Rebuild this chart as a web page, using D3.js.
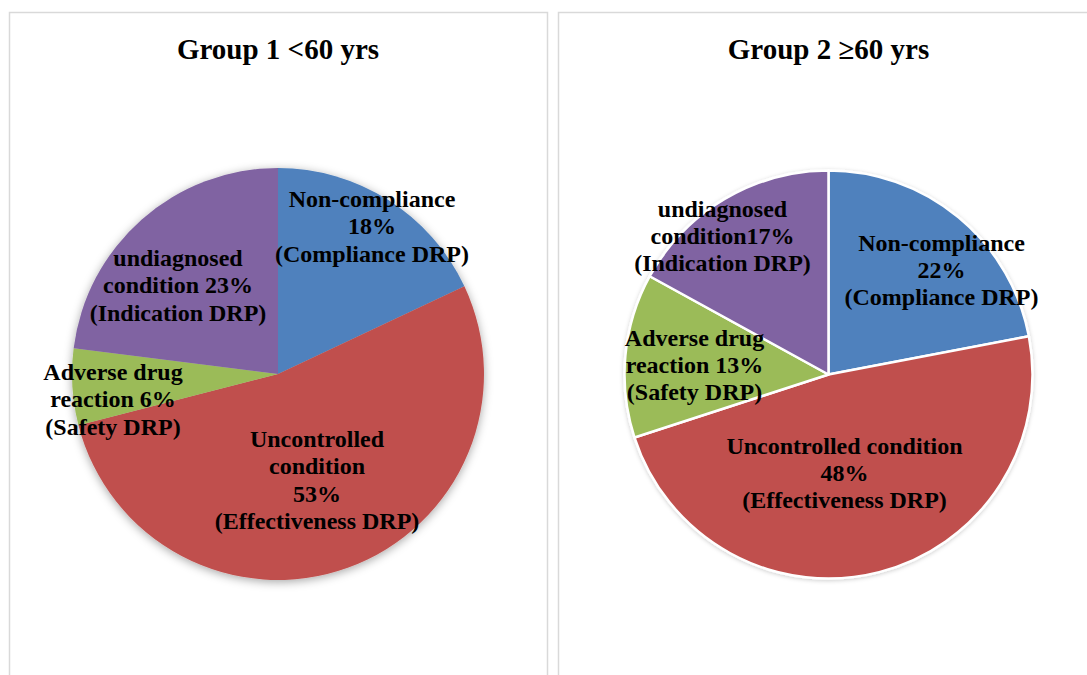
<!DOCTYPE html>
<html>
<head>
<meta charset="utf-8">
<script src="https://cdn.jsdelivr.net/npm/d3@7"></script>
<style>
  body { margin: 0; background: #fff; }
  svg { display: block; }
  text { font-family: "Liberation Serif", "Times New Roman", serif; font-weight: bold; fill: #000; }
</style>
</head>
<body>
<script>
const width = 1087,
  height = 675;

// ---- data ----
const categories = ["Non-compliance", "Uncontrolled condition", "Adverse drug reaction", "undiagnosed condition"];
const colors = ["#4F81BD", "#C0504D", "#9BBB59", "#8064A2"];

const titles = ["Group 1 <60 yrs", "Group 2 \u226560 yrs"];
const group1Values = [18, 53, 6, 23];
const group2Values = [22, 48, 13, 17];

// label text, {v} gets the slice value
const group1Labels = [
  ["Non-compliance", "{v}%", "(Compliance DRP)"],
  ["Uncontrolled", "condition", "{v}%", "(Effectiveness DRP)"],
  ["Adverse drug", "reaction {v}%", "(Safety DRP)"],
  ["undiagnosed", "condition {v}%", "(Indication DRP)"]
];
const group2Labels = [
  ["Non-compliance", "{v}%", "(Compliance DRP)"],
  ["Uncontrolled condition", "{v}%", "(Effectiveness DRP)"],
  ["Adverse drug", "reaction {v}%", "(Safety DRP)"],
  ["undiagnosed", "condition{v}%", "(Indication DRP)"]
];

// ---- layout ----
const panels = [
  { x: 9.5, w: 538, cx: 278, cy: 374, r: 206, stroke: 0, shadow: "shadowBig",
    // first-line baseline of each label, relative to pie centre
    labelPos: [[94, -167], [39, 73], [-165, 6], [-100, -108]] },
  { x: 558.5, w: 540, cx: 828.5, cy: 374.5, r: 204, stroke: 2.5, shadow: "shadowSmall",
    labelPos: [[113, -124], [16, 79], [-134, -29], [-106, -158]] }
];
const lineH = 27.3;

const svg = d3.select("body")
  .append("svg")
  .attr("width", width)
  .attr("height", height);

const defs = svg.append("defs");
defs.append("filter").attr("id", "shadowBig")
  .attr("x", "-20%").attr("y", "-20%").attr("width", "140%").attr("height", "140%")
  .append("feDropShadow")
  .attr("dx", 0).attr("dy", 2).attr("stdDeviation", 5)
  .attr("flood-color", "#000").attr("flood-opacity", 0.35);
defs.append("filter").attr("id", "shadowSmall")
  .attr("x", "-20%").attr("y", "-20%").attr("width", "140%").attr("height", "140%")
  .append("feDropShadow")
  .attr("dx", 0).attr("dy", 1).attr("stdDeviation", 2)
  .attr("flood-color", "#000").attr("flood-opacity", 0.2);

const pie = d3.pie().sort(null).value((d) => d);
const color = d3.scaleOrdinal().domain(categories).range(colors);

const groups = [
  { values: group1Values, labels: group1Labels },
  { values: group2Values, labels: group2Labels }
];

groups.forEach((g, gi) => {
  const p = panels[gi];

  // panel frame
  svg.append("rect")
    .attr("x", p.x)
    .attr("y", 12.5)
    .attr("width", p.w)
    .attr("height", 700)
    .attr("fill", "none")
    .attr("stroke", "#d9d9d9")
    .attr("stroke-width", 1.5);

  svg.append("text")
    .attr("x", p.cx)
    .attr("y", 59)
    .attr("text-anchor", "middle")
    .attr("font-size", 29)
    .text(titles[gi]);

  const arc = d3.arc().innerRadius(0).outerRadius(p.r);

  const pieG = svg.append("g")
    .attr("transform", `translate(${p.cx},${p.cy})`);

  pieG.append("g")
    .attr("filter", `url(#${p.shadow})`)
    .selectAll("path")
    .data(pie(g.values))
    .enter()
    .append("path")
    .attr("d", arc)
    .attr("fill", (d, i) => color(categories[i]))
    .attr("stroke", p.stroke ? "#fff" : "none")
    .attr("stroke-width", p.stroke)
    .attr("stroke-linejoin", "round");

  // labels
  pieG.selectAll("text.lbl")
    .data(g.labels)
    .enter()
    .append("text")
    .attr("class", "lbl")
    .attr("text-anchor", "middle")
    .attr("font-size", 24)
    .each(function (lines, i) {
      const [dx, dy] = p.labelPos[i];
      d3.select(this)
        .selectAll("tspan")
        .data(lines)
        .enter()
        .append("tspan")
        .attr("x", dx)
        .attr("y", (l, k) => dy + k * lineH)
        .text((l) => l.replace("{v}", g.values[i]));
    });
});
</script>
</body>
</html>
